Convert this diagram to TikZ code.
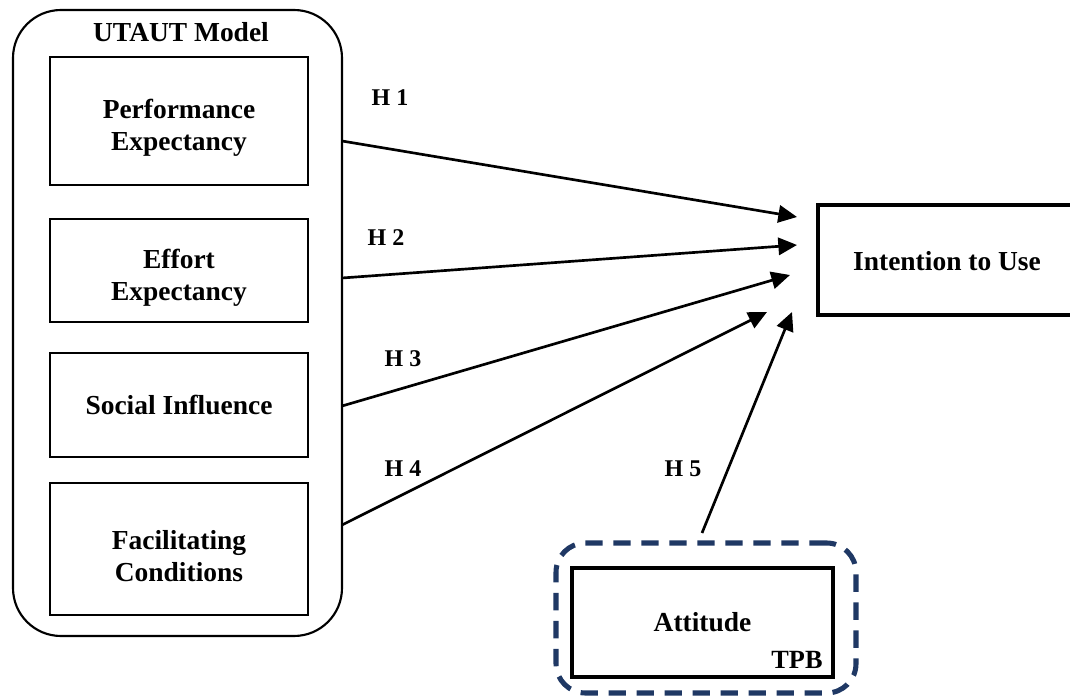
\documentclass[tikz,border=0pt]{standalone}
\usepackage{fontspec}
\setmainfont{Liberation Serif}
\usetikzlibrary{arrows.meta}
\definecolor{tpbnavy}{HTML}{1F3864}
% extra head room so two-line labels sit a little lower in their boxes
\newcommand{\toproom}{\rule{0pt}{25pt}}
\begin{document}
\begin{tikzpicture}[x=0.75pt,y=-0.75pt,
  txt/.style={font=\fontsize{20.6}{24}\selectfont\bfseries, align=center, inner sep=0pt},
  hyp/.style={font=\fontsize{18}{21}\selectfont\bfseries, inner sep=0pt, anchor=base},
  construct/.style={txt, draw, line width=2.2pt, minimum width=193.5pt},
  group/.style={draw, line width=1.6pt, rounded corners=36pt, inner sep=0pt},
  path/.style={line width=2pt, -{Triangle[length=14pt,width=13pt]}}]
\useasboundingbox (0,0) rectangle (1070,698);

% UTAUT frame and its four constructs
\node[group, minimum width=246.75pt, minimum height=469.5pt] (utaut) at (177.5,323) {};
\node[txt, anchor=base] (utauttitle) at (181,42) {UTAUT Model};
\node[construct, minimum height=96pt]    (pe) at (179,121)   {\toproom Performance\\Expectancy};
\node[construct, minimum height=77.25pt] (ee) at (179,270.5) {\toproom Effort\\Expectancy};
\node[construct, minimum height=78pt]    (si) at (179,405)   {Social Influence};
\node[construct, minimum height=99pt]    (fc) at (179,549)   {\toproom Facilitating\\Conditions};

% dependent variable
\node[draw, line width=3pt, minimum width=192.75pt, minimum height=82pt, inner sep=0pt]
  (itu) at (946,260) {};
\node[txt] (itutext) at (947,261) {Intention to Use};

% TPB frame with attitude
\node[draw=tpbnavy, line width=3.8pt, dash pattern=on 13pt off 8pt,
  rounded corners=22pt, minimum width=225pt, minimum height=112.5pt, inner sep=0pt]
  (tpb) at (706,618) {};
\node[txt, draw, line width=2.4pt, minimum width=195.75pt, minimum height=81.75pt]
  (att) at (702.5,622.5) {Attitude};
\node[txt, font=\fontsize{19.7}{24}\selectfont\bfseries, anchor=base] (tpblabel) at (797,668) {TPB};

% hypothesis paths
\coordinate (s1) at (342,141);
\coordinate (s2) at (342,278);
\coordinate (s3) at (342,406);
\coordinate (s4) at (342,525);
\coordinate (s5) at (702,533);
\coordinate (t1) at (797,217);
\coordinate (t2) at (797,245);
\coordinate (t3) at (790,275);
\coordinate (t4) at (767,312);
\coordinate (t5) at (792,312);
\draw[path] (s1) -- (t1);
\draw[path] (s2) -- (t2);
\draw[path] (s3) -- (t3);
\draw[path] (s4) -- (t4);
\draw[path] (s5) -- (t5);

\node[hyp] (h1) at (390,106) {H 1};
\node[hyp] (h2) at (386,246) {H 2};
\node[hyp] (h3) at (403,367) {H 3};
\node[hyp] (h4) at (403,476) {H 4};
\node[hyp] (h5) at (683,476) {H 5};
\end{tikzpicture}
\end{document}
